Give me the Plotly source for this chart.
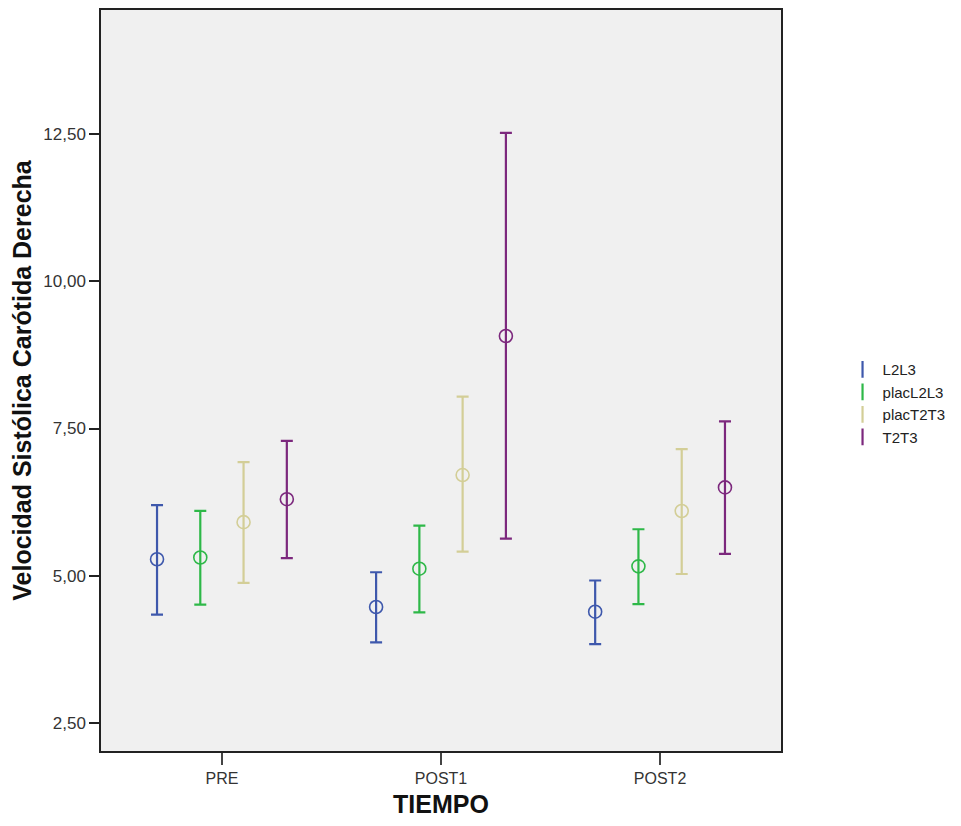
import plotly.graph_objects as go

categories = ["PRE", "POST1", "POST2"]
series = ["L2L3", "placL2L3", "placT2T3", "T2T3"]
colors = ["#3E58AC", "#2EB848", "#D3CE97", "#7C287D"]

mean_L2L3 = [5.28, 4.47, 4.39]
low_L2L3 = [4.34, 3.87, 3.84]
high_L2L3 = [6.20, 5.06, 4.92]

mean_placL2L3 = [5.31, 5.12, 5.16]
low_placL2L3 = [4.51, 4.38, 4.52]
high_placL2L3 = [6.10, 5.85, 5.79]

mean_placT2T3 = [5.91, 6.71, 6.10]
low_placT2T3 = [4.88, 5.41, 5.03]
high_placT2T3 = [6.93, 8.04, 7.15]

mean_T2T3 = [6.30, 9.07, 6.50]
low_T2T3 = [5.30, 5.63, 5.37]
high_T2T3 = [7.29, 12.52, 7.62]

ytick_vals = [2.5, 5.0, 7.5, 10.0, 12.5]
ytick_text = ["2,50", "5,00", "7,50", "10,00", "12,50"]

means = [mean_L2L3, mean_placL2L3, mean_placT2T3, mean_T2T3]
lows = [low_L2L3, low_placL2L3, low_placT2T3, low_T2T3]
highs = [high_L2L3, high_placL2L3, high_placT2T3, high_T2T3]

offset_step = 0.1975
fig = go.Figure()
for i, name in enumerate(series):
    xs = [c + (i - 1.5) * offset_step for c in range(len(categories))]
    m = means[i]
    up = [h - v for h, v in zip(highs[i], m)]
    dn = [v - l for v, l in zip(m, lows[i])]
    fig.add_trace(go.Scatter(
        x=xs, y=m, mode="markers", name=name, showlegend=False,
        marker=dict(symbol="circle-open", size=13, color=colors[i],
                    line=dict(width=1.6, color=colors[i])),
        error_y=dict(type="data", symmetric=False, array=up, arrayminus=dn,
                     color=colors[i], thickness=2.2, width=6),
        hoverinfo="skip",
    ))
    fig.add_trace(go.Scatter(
        x=[None], y=[None], mode="markers", name=name, showlegend=True,
        marker=dict(symbol="line-ns-open", size=12, color=colors[i],
                    line=dict(width=2.2, color=colors[i])),
    ))

W, H = 945, 810
fig.update_layout(
    width=W, height=H,
    margin=dict(l=93, r=W - 773, t=2, b=H - 743, autoexpand=False),
    paper_bgcolor="white",
    plot_bgcolor="#F0F0F0",
    font=dict(family="Liberation Sans, Arial, sans-serif", size=16, color="#333333"),
    legend=dict(x=1.0905, xanchor="left", y=0.537, yanchor="top",
                bgcolor="rgba(0,0,0,0)", font=dict(size=15, color="#222222"),
                itemwidth=30, tracegroupgap=0),
    showlegend=True,
)
fig.update_xaxes(
    range=[-0.552, 2.552],
    tickmode="array", tickvals=[0, 1, 2], ticktext=categories,
    showgrid=False, zeroline=False,
    showline=True, linecolor="#222222", linewidth=1.5, mirror=True,
    ticks="outside", ticklen=12, tickwidth=1.5, tickcolor="#444444",
    tickfont=dict(size=16, color="#333333"),
    title=dict(text="<b>TIEMPO</b>", font=dict(size=25, color="#111111"), standoff=16),
)
fig.update_yaxes(
    range=[2.025, 14.605],
    tickmode="array", tickvals=ytick_vals, ticktext=ytick_text,
    showgrid=False, zeroline=False,
    showline=True, linecolor="#222222", linewidth=1.5, mirror=True,
    ticks="outside", ticklen=10, tickwidth=1.5, tickcolor="#222222",
    tickfont=dict(size=17, color="#333333"),
    title=dict(text="<b>Velocidad Sistólica Carótida Derecha</b>",
               font=dict(size=25, color="#111111"), standoff=5),
)

fig.write_html("out.html")
